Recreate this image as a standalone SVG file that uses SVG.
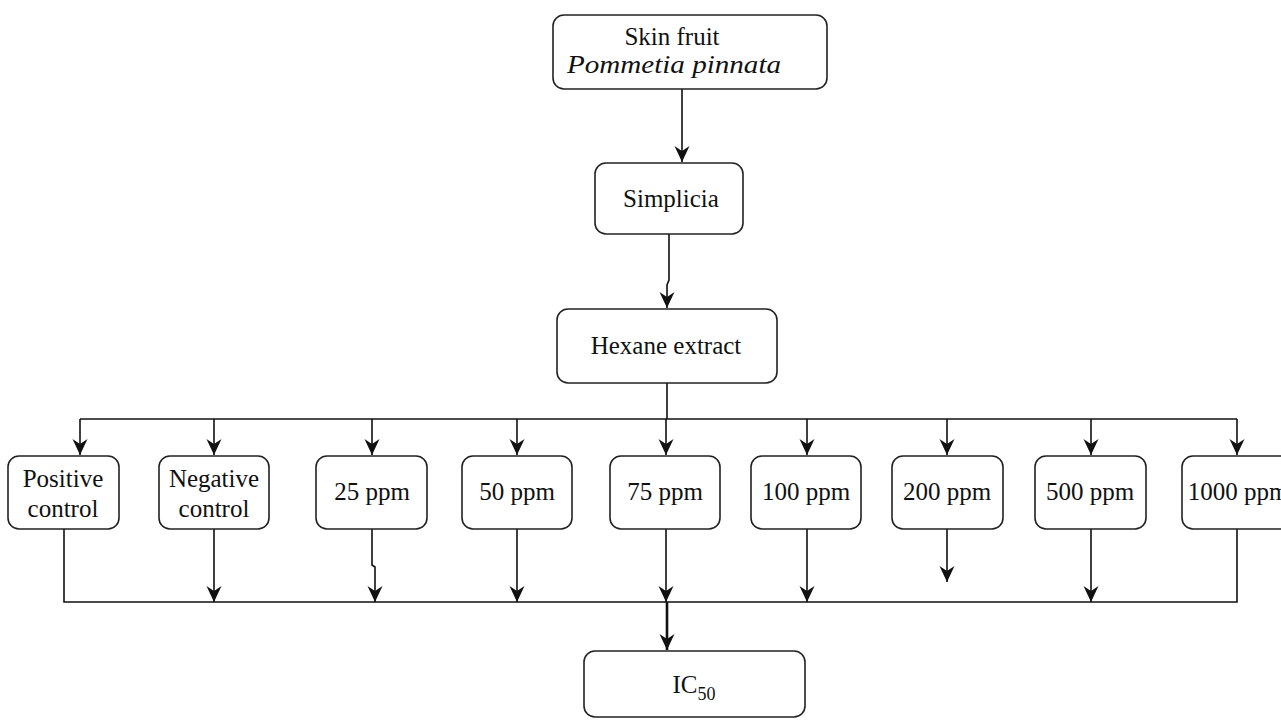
<svg xmlns="http://www.w3.org/2000/svg" width="1281" height="720" viewBox="0 0 1281 720">
<style>
.box{fill:#fff;stroke:#222;stroke-width:1.6}
.t{font-family:"Liberation Serif","Times New Roman",serif;font-size:25px;fill:#111;text-anchor:middle}
.ln{fill:none;stroke:#111;stroke-width:1.6}
</style>
<defs>
<marker id="ah" markerWidth="17" markerHeight="16" refX="16" refY="8" orient="auto" markerUnits="userSpaceOnUse" viewBox="0 0 17 16">
<path d="M0,0.5 L16,8 L0,15.5 L5,8 Z" fill="#111"/>
</marker>
</defs>
<rect width="1281" height="720" fill="#fff"/>
<g id="connectors">
<line class="ln" x1="682" y1="89" x2="682" y2="162" marker-end="url(#ah)"/>
<path class="ln" d="M669,234 L669,280 L667,285 L667,308" marker-end="url(#ah)"/>
<line class="ln" x1="667" y1="383" x2="667" y2="419"/>
<line class="ln" x1="80" y1="419" x2="1237" y2="419"/>
<line class="ln" x1="80" y1="419" x2="80" y2="455" marker-end="url(#ah)"/>
<line class="ln" x1="214" y1="419" x2="214" y2="455" marker-end="url(#ah)"/>
<line class="ln" x1="372" y1="419" x2="372" y2="455" marker-end="url(#ah)"/>
<line class="ln" x1="517" y1="419" x2="517" y2="455" marker-end="url(#ah)"/>
<line class="ln" x1="666" y1="419" x2="666" y2="455" marker-end="url(#ah)"/>
<line class="ln" x1="807" y1="419" x2="807" y2="455" marker-end="url(#ah)"/>
<line class="ln" x1="947" y1="419" x2="947" y2="455" marker-end="url(#ah)"/>
<line class="ln" x1="1091" y1="419" x2="1091" y2="455" marker-end="url(#ah)"/>
<line class="ln" x1="1237" y1="419" x2="1237" y2="455" marker-end="url(#ah)"/>
<path class="ln" d="M64,529 L64,602 L1237,602 L1237,529"/>
<line class="ln" x1="214" y1="529" x2="214" y2="602" marker-end="url(#ah)"/>
<path class="ln" d="M372,529 L372,565 L375,567 L375,602" marker-end="url(#ah)"/>
<line class="ln" x1="517" y1="529" x2="517" y2="602" marker-end="url(#ah)"/>
<line class="ln" x1="666" y1="529" x2="666" y2="602" marker-end="url(#ah)"/>
<line class="ln" x1="807" y1="529" x2="807" y2="602" marker-end="url(#ah)"/>
<line class="ln" x1="947" y1="529" x2="947" y2="582" marker-end="url(#ah)"/>
<line class="ln" x1="1091" y1="529" x2="1091" y2="602" marker-end="url(#ah)"/>
<line class="ln" x1="667" y1="602" x2="667" y2="650" marker-end="url(#ah)" style="stroke-width:2.6"/>
</g>
<g id="skin-fruit">
<rect class="box" x="553" y="15" width="274" height="74" rx="11"/>
<text class="t" x="672" y="45">Skin fruit</text>
<text class="t" x="674" y="73" font-style="italic" textLength="214" lengthAdjust="spacingAndGlyphs">Pommetia pinnata</text>
</g>
<g id="simplicia">
<rect class="box" x="595" y="163" width="148" height="71" rx="11"/>
<text class="t" x="671" y="207">Simplicia</text>
</g>
<g id="hexane">
<rect class="box" x="557" y="309" width="220" height="74" rx="11"/>
<text class="t" x="666" y="354">Hexane extract</text>
</g>
<g id="positive">
<rect class="box" x="8" y="456" width="111" height="73" rx="11"/>
<text class="t" x="63" y="487">Positive</text>
<text class="t" x="63" y="517">control</text>
</g>
<g id="negative">
<rect class="box" x="159" y="456" width="110" height="73" rx="11"/>
<text class="t" x="214" y="487">Negative</text>
<text class="t" x="214" y="517">control</text>
</g>
<g id="p25">
<rect class="box" x="316" y="456" width="111" height="73" rx="11"/>
<text class="t" x="372" y="500">25 ppm</text>
</g>
<g id="p50">
<rect class="box" x="462" y="456" width="110" height="73" rx="11"/>
<text class="t" x="517" y="500">50 ppm</text>
</g>
<g id="p75">
<rect class="box" x="610" y="456" width="110" height="73" rx="11"/>
<text class="t" x="665" y="500">75 ppm</text>
</g>
<g id="p100">
<rect class="box" x="751" y="456" width="110" height="73" rx="11"/>
<text class="t" x="806" y="500">100 ppm</text>
</g>
<g id="p200">
<rect class="box" x="892" y="456" width="111" height="73" rx="11"/>
<text class="t" x="947" y="500">200 ppm</text>
</g>
<g id="p500">
<rect class="box" x="1035" y="456" width="111" height="73" rx="11"/>
<text class="t" x="1090" y="500">500 ppm</text>
</g>
<g id="p1000">
<rect class="box" x="1182" y="456" width="112" height="73" rx="11"/>
<text class="t" x="1238" y="500">1000 ppm</text>
</g>
<g id="ic50">
<rect class="box" x="584" y="651" width="221" height="66" rx="11"/>
<text class="t" x="694" y="693">IC<tspan font-size="18" dy="7">50</tspan></text>
</g>
</svg>
